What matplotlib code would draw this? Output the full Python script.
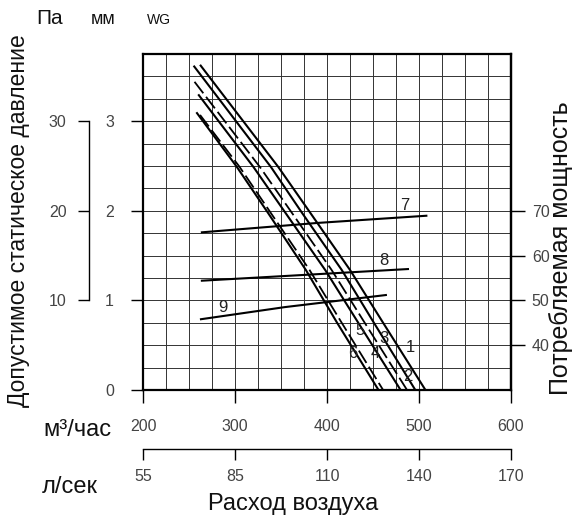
import matplotlib.pyplot as plt

plt.rcParams["font.family"] = ["Liberation Sans", "DejaVu Sans"]

# ---------------------------------------------------------------
# data
# ---------------------------------------------------------------

flow_ticks = [200, 300, 400, 500, 600]
flow_ls_labels = ["55", "85", "110", "140", "170"]
mm_ticks = [0, 1, 2, 3]
pa_ticks = [10, 20, 30]
watt_ticks = [40, 50, 60, 70]

# static pressure curves: airflow (m3/h) against pressure (mm WG)
c1_flow = [262, 347, 382, 425, 461, 507]
c1_mm = [3.63, 2.49, 1.975, 1.34, 0.75, 0.0]
c2_flow = [255, 339, 373, 416, 451, 496]
c2_mm = [3.62, 2.49, 1.975, 1.34, 0.75, 0.0]
c3_flow = [256, 327, 362, 405, 441, 487]
c3_mm = [3.44, 2.49, 1.975, 1.34, 0.75, 0.0]
c4_flow = [260, 320, 355, 398, 434, 480]
c4_mm = [3.30, 2.49, 1.975, 1.34, 0.75, 0.0]
c5_flow = [262, 305, 339, 381, 416, 461]
c5_mm = [3.07, 2.49, 1.975, 1.34, 0.75, 0.0]
c6_flow = [258, 302, 336, 377, 411, 456]
c6_mm = [3.10, 2.49, 1.975, 1.34, 0.75, 0.0]

# power consumption lines: airflow (m3/h) against watts
p7_flow = [264, 390, 508]
p7_w = [65.2, 67.3, 68.9]
p8_flow = [264, 488]
p8_w = [54.4, 57.0]
p9_flow = [263, 354, 464]
p9_w = [45.8, 48.5, 51.2]

# ---------------------------------------------------------------
# figure
# ---------------------------------------------------------------

fig = plt.figure(figsize=(5.75, 5.18), dpi=100)
ax = fig.add_axes([0.2487, 0.2471, 0.640, 0.6486])

ax.set_xlim(200, 600)
ax.set_ylim(0, 3.75)

grid_x = [200 + 25 * i for i in range(17)]
grid_y = [0.25 * i for i in range(16)]
for gx in grid_x:
    ax.axvline(gx, color="#333333", lw=0.7, zorder=1)
for gy in grid_y:
    ax.axhline(gy, color="#333333", lw=0.7, zorder=1)

for spine in ax.spines.values():
    spine.set_linewidth(1.6)
    spine.set_zorder(5)

tick_font = dict(fontsize=11.5, color="#444444", fontweight="light")

ax.set_xticks(flow_ticks)
ax.set_xticklabels([str(v) for v in flow_ticks], **tick_font)
ax.set_yticks(mm_ticks)
ax.set_yticklabels([str(v) for v in mm_ticks], **tick_font)
ax.tick_params(axis="x", direction="out", length=9, width=1.0, pad=12)
ax.tick_params(axis="y", direction="out", length=9, width=1.0, pad=12)

# pressure curves
solid = dict(color="black", lw=1.5, zorder=3, solid_capstyle="butt")
dashed = dict(color="black", lw=1.3, zorder=3, dashes=(8, 2.5))

ax.plot(c1_flow, c1_mm, **solid)
ax.plot(c2_flow, c2_mm, **solid)
ax.plot(c3_flow, c3_mm, **dashed)
ax.plot(c4_flow, c4_mm, **solid)
ax.plot(c5_flow, c5_mm, **dashed)
ax.plot(c6_flow, c6_mm, **solid)

label_font = dict(fontsize=12, color="#222222", ha="center", va="center",
                  zorder=4)
ax.text(491, 0.47, "1", **label_font)
ax.text(488, 0.15, "2", **label_font)
ax.text(462, 0.58, "3", **label_font)
ax.text(452, 0.41, "4", **label_font)
ax.text(436, 0.66, "5", **label_font)
ax.text(428, 0.41, "6", **label_font)
ax.text(485, 2.06, "7", **label_font)
ax.text(462, 1.45, "8", **label_font)
ax.text(287, 0.92, "9", **label_font)

# ---------------------------------------------------------------
# right axis: power
# ---------------------------------------------------------------

ax_w = ax.twinx()
ax_w.set_ylim(30, 105)
for name, spine in ax_w.spines.items():
    spine.set_visible(name == "right")
ax_w.spines["right"].set_linewidth(1.6)
ax_w.set_yticks(watt_ticks)
ax_w.set_yticklabels([str(v) for v in watt_ticks], **tick_font)
ax_w.tick_params(axis="y", direction="out", length=10, width=1.0, pad=5)

ax_w.plot(p7_flow, p7_w, color="black", lw=1.5, zorder=3)
ax_w.plot(p8_flow, p8_w, color="black", lw=1.5, zorder=3)
ax_w.plot(p9_flow, p9_w, color="black", lw=1.5, zorder=3)

# ---------------------------------------------------------------
# left outer axis: pascal
# ---------------------------------------------------------------

ax_pa = ax.twinx()
ax_pa.set_ylim(0, 37.5)
for name, spine in ax_pa.spines.items():
    spine.set_visible(name == "left")
ax_pa.yaxis.set_ticks_position("left")
ax_pa.yaxis.set_label_position("left")
ax_pa.spines["left"].set_position(("outward", 39))
ax_pa.spines["left"].set_bounds(10, 30)
ax_pa.spines["left"].set_linewidth(1.0)
ax_pa.set_yticks(pa_ticks)
ax_pa.set_yticklabels([str(v) for v in pa_ticks], **tick_font)
ax_pa.tick_params(axis="y", direction="out", length=8, width=1.0, pad=8)

# ---------------------------------------------------------------
# lower axis: litres per second
# ---------------------------------------------------------------

ax_ls = ax.secondary_xaxis(-0.176)
ax_ls.set_xticks(flow_ticks)
ax_ls.set_xticklabels(flow_ls_labels, **tick_font)
ax_ls.spines["bottom"].set_linewidth(1.0)
ax_ls.tick_params(axis="x", direction="out", length=8, width=1.0, pad=6)

# ---------------------------------------------------------------
# titles and units
# ---------------------------------------------------------------

big = dict(fontsize=17, color="#111111")
fig.text(0.087, 0.965, "Па", ha="center", va="center", fontsize=15,
         color="#111111")
fig.text(0.180, 0.962, "мм", ha="center", va="center", fontsize=13,
         color="#111111")
fig.text(0.277, 0.962, "WG", ha="center", va="center", fontsize=10,
         color="#111111")
fig.text(0.134, 0.170, "м³/час", ha="center", va="center", **big)
fig.text(0.122, 0.060, "л/сек", ha="center", va="center", **big)
fig.text(0.510, 0.027, "Расход воздуха", ha="center", va="center", **big)
fig.text(0.032, 0.575, "Допустимое статическое давление", rotation=90,
         ha="center", va="center", fontsize=16.5, color="#111111")
fig.text(0.975, 0.52, "Потребляемая мощность", rotation=90,
         ha="center", va="center", fontsize=18, color="#111111")

fig.savefig("out.png", dpi=100)
